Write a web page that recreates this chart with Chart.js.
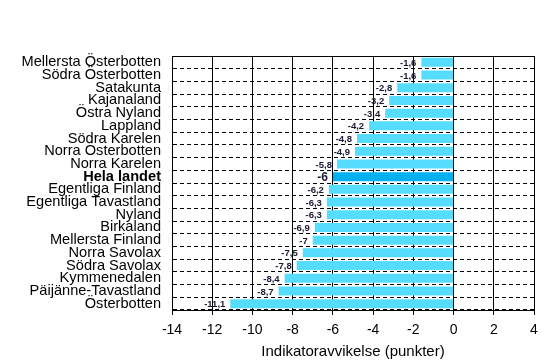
<!DOCTYPE html>
<html>
<head>
<meta charset="utf-8">
<script src="https://cdn.jsdelivr.net/npm/chart.js@4"></script>
<style>
  body { margin: 0; background: #fff; }
  canvas { display: block; }
</style>
</head>
<body>
<canvas id="myChart" width="553" height="362"></canvas>
<script>
const regions = ['Mellersta \u00d6sterbotten', 'S\u00f6dra \u00d6sterbotten', 'Satakunta', 'Kajanaland', '\u00d6stra Nyland',
    'Lappland', 'S\u00f6dra Karelen', 'Norra \u00d6sterbotten', 'Norra Karelen', 'Hela landet',
    'Egentliga Finland', 'Egentliga Tavastland', 'Nyland', 'Birkaland', 'Mellersta Finland',
    'Norra Savolax', 'S\u00f6dra Savolax', 'Kymmenedalen', 'P\u00e4ij\u00e4nne-Tavastland', '\u00d6sterbotten'];
const deviation = [-1.6, -1.6, -2.8, -3.2, -3.4, -4.2, -4.8, -4.9, -5.8, -6,
    -6.2, -6.3, -6.3, -6.9, -7, -7.5, -7.8, -8.4, -8.7, -11.1];
const xTicks = [-14, -12, -10, -8, -6, -4, -2, 0, 2, 4];
const totalRow = 'Hela landet';

const FONT = '"Liberation Sans", Arial, sans-serif';

// ram runt ritytan
const frame = {
    id: 'frame',
    afterDraw(chart) {
        const a = chart.chartArea, ctx = chart.ctx;
        ctx.save();
        ctx.strokeStyle = '#000';
        ctx.lineWidth = 1;
        ctx.strokeRect(Math.round(a.left) + 0.5, Math.round(a.top) + 0.5,
            Math.round(a.right - a.left), Math.round(a.bottom - a.top));
        ctx.restore();
    }
};

// värdeetiketter till vänster om staplarna
const valueLabels = {
    id: 'valueLabels',
    afterDatasetsDraw(chart) {
        const ctx = chart.ctx;
        const meta = chart.getDatasetMeta(0);
        ctx.save();
        ctx.textAlign = 'right';
        ctx.textBaseline = 'middle';
        ctx.fillStyle = '#1a1a33';
        meta.data.forEach((bar, i) => {
            const isTotal = regions[i] === totalRow;
            ctx.font = (isTotal ? 'bold 12px ' : 'bold 9.5px ') + FONT;
            const txt = String(deviation[i]).replace('.', ',');
            ctx.fillText(txt, bar.x - 5, bar.y + 1);
        });
        ctx.restore();
    }
};

const ctx = document.getElementById('myChart').getContext('2d');

new Chart(ctx, {
    type: 'bar',
    data: {
        labels: regions,
        datasets: [{
            data: deviation,
            backgroundColor: regions.map(r => r === totalRow ? '#00b0f0' : '#55dcff'),
            borderWidth: 0,
            barPercentage: 1,
            categoryPercentage: 0.71
        }]
    },
    options: {
        indexAxis: 'y',
        responsive: false,
        animation: false,
        layout: { padding: { top: 56, right: 19, left: 0, bottom: 0 } },
        plugins: {
            legend: { display: false },
            tooltip: { enabled: false }
        },
        scales: {
            x: {
                min: -14,
                max: 4,
                afterBuildTicks: scale => { scale.ticks = xTicks.map(v => ({ value: v })); },
                afterFit: scale => { scale.height = 52; },
                ticks: {
                    color: '#000',
                    font: { family: FONT, size: 14 },
                    padding: 7,
                    maxRotation: 0,
                    callback: v => String(v)
                },
                grid: {
                    color: '#000',
                    lineWidth: 1,
                    tickLength: 5,
                    tickColor: '#000'
                },
                border: { color: '#000' },
                title: {
                    display: true,
                    text: 'Indikatoravvikelse (punkter)',
                    color: '#000',
                    font: { family: FONT, size: 15 },
                    padding: { top: 2, bottom: 1 }
                }
            },
            y: {
                afterFit: scale => { scale.width = 172; },
                ticks: {
                    color: '#000',
                    padding: 11,
                    autoSkip: false,
                    font: c => ({
                        family: FONT,
                        size: 14.6,
                        weight: regions[c.index] === totalRow ? 'bold' : 'normal'
                    })
                },
                grid: {
                    color: '#000',
                    lineWidth: 1,
                    drawTicks: false
                },
                border: { color: '#000', dash: [4, 3] }
            }
        }
    },
    plugins: [frame, valueLabels]
});
</script>
</body>
</html>
